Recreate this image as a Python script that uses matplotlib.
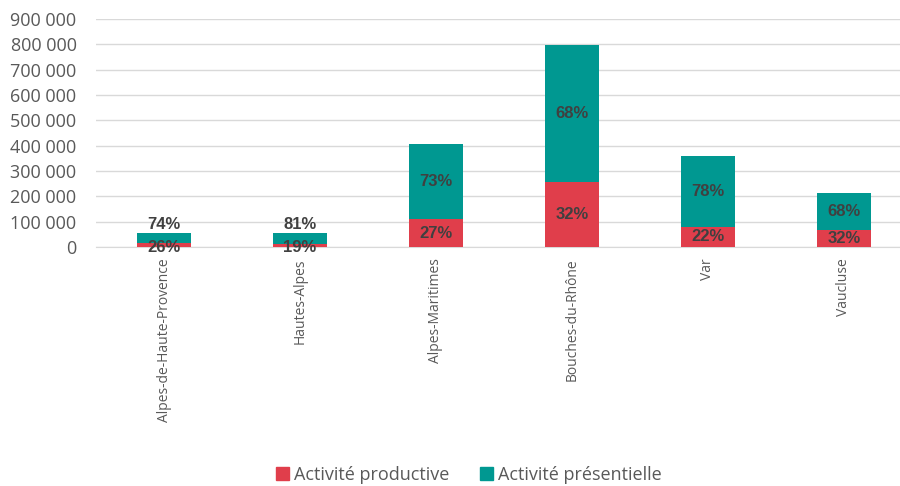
import matplotlib
matplotlib.use("Agg")
import matplotlib.pyplot as plt
from matplotlib.ticker import FuncFormatter, MultipleLocator
from matplotlib.patches import Patch

# departements et valeurs (emplois)
depts = ["Alpes-de-Haute-Provence", "Hautes-Alpes", "Alpes-Maritimes",
         "Bouches-du-Rhône", "Var", "Vaucluse"]
productive = [14500, 10500, 110000, 255000, 79000, 68000]
presentielle = [41500, 44500, 297000, 543000, 280000, 145000]
pct_prod = ["26%", "19%", "27%", "32%", "22%", "32%"]
pct_pres = ["74%", "81%", "73%", "68%", "78%", "68%"]

red = "#E03E4B"
teal = "#009891"
grey = "#595959"

plt.rcParams['font.family'] = ['Open Sans', 'DejaVu Sans']

fig = plt.figure(figsize=(9, 4.86), dpi=100)
ax = fig.add_axes([96/900, 1-247/486, 1-96/900, (247-19)/486])

x = range(len(depts))
ax.bar(x, productive, width=0.4, color=red, zorder=3)
ax.bar(x, presentielle, width=0.4, bottom=productive, color=teal, zorder=3)

lab = dict(ha="center", fontsize=12, fontweight="bold", color="#404040", zorder=4,
           family=['Liberation Sans', 'DejaVu Sans'])
for i in x:
    p, q = productive[i], presentielle[i]
    if p + q < 100000:
        ax.text(i, p + q + 3000, pct_pres[i], va="bottom", **lab)
        ax.text(i, 0, pct_prod[i], va="center", **lab)
    else:
        ax.text(i, p / 2, pct_prod[i], va="center", **lab)
        ax.text(i, p + q / 2, pct_pres[i], va="center", **lab)

ax.set_ylim(0, 900000)
ax.set_xlim(-0.5, 5.5 - 12/136)
ax.yaxis.set_major_locator(MultipleLocator(100000))
ax.yaxis.set_major_formatter(FuncFormatter(lambda v, _: f"{int(v):,}".replace(",", " ")))
ax.grid(axis="y", color="#D9D9D9", linewidth=1, zorder=0)
for s in ["top", "right", "left"]:
    ax.spines[s].set_visible(False)
ax.spines["bottom"].set_color("#D9D9D9")
ax.tick_params(axis="both", length=0, colors=grey)
ax.tick_params(axis="y", pad=14, labelsize=13)
ax.tick_params(axis="x", pad=8)
ax.set_xticks(list(x))
ax.set_xticklabels(depts, rotation=90, fontsize=10)

handles = [Patch(color=red, label="Activité productive"),
           Patch(color=teal, label="Activité présentielle")]
fig.legend(handles=handles, loc="center", bbox_to_anchor=(469/900, 1-475/486), ncol=2,
           frameon=False, fontsize=13, labelcolor=grey, handlelength=0.7,
           handleheight=0.7, handletextpad=0.3, columnspacing=1.7)

fig.savefig("out.png", dpi=100)
